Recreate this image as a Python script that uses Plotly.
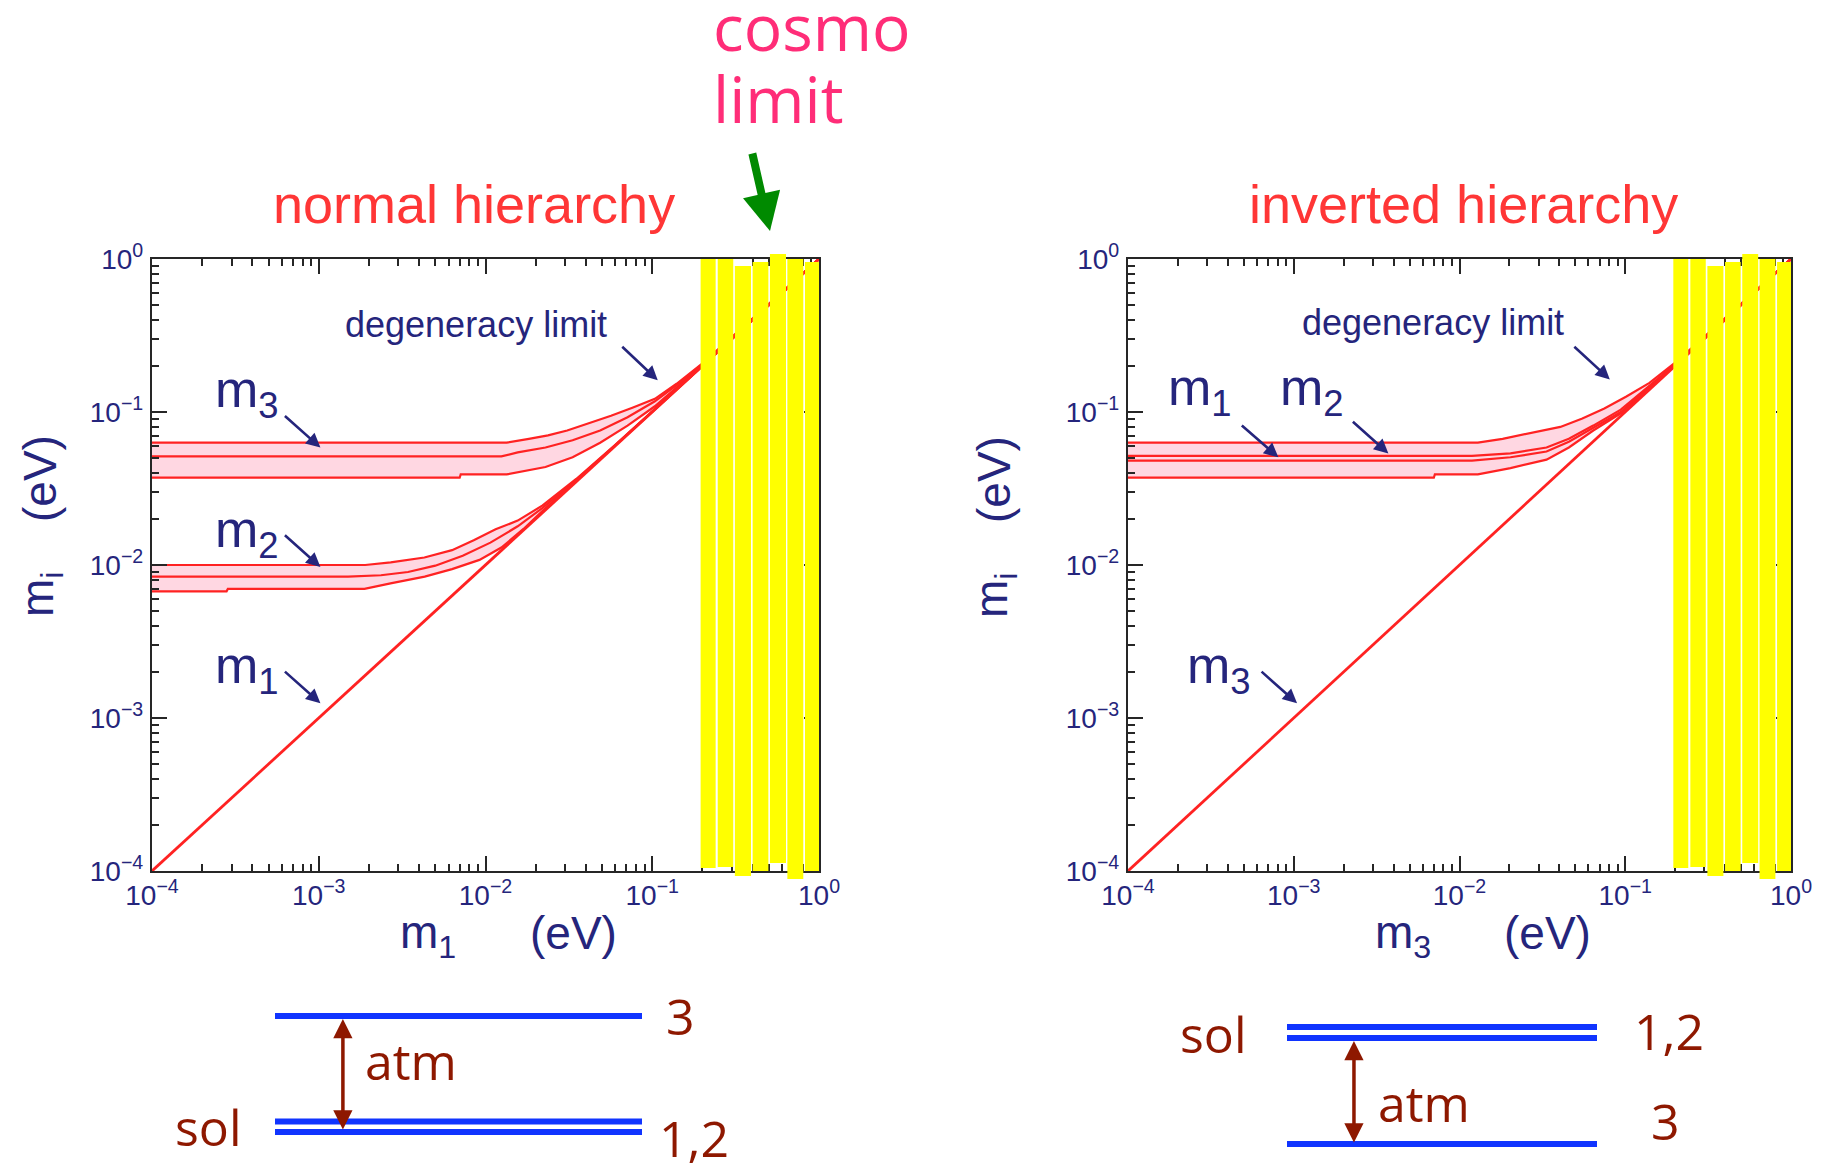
import math
import plotly.graph_objects as go

W, H = 1821, 1166

# ---------------- data (eV) ----------------
diag_x = [1e-4, 1.0]
diag_y = [1e-4, 1.0]

# normal hierarchy, m2 band (upper / central / lower edge) vs m1
nh_m2_top_x = [1e-4, 1.9e-3, 2.7e-3, 4.3e-3, 6.3e-3, 8.5e-3, 0.0115, 0.0156, 0.022, 0.035, 0.06, 0.1, 0.2, 1.0]
nh_m2_top_y = [0.0100, 0.0100, 0.0104, 0.0112, 0.0125, 0.0145, 0.0171, 0.0195, 0.0245, 0.0365, 0.0610, 0.1005, 0.2, 1.0]
nh_m2_mid_x = [1e-4, 1.5e-3, 2.36e-3, 3.43e-3, 5.0e-3, 7.3e-3, 0.0107, 0.0156, 0.022, 0.035, 0.06, 0.1, 0.2, 1.0]
nh_m2_mid_y = [0.0084, 0.0084, 0.00857, 0.0090, 0.0099, 0.0115, 0.0140, 0.0179, 0.0236, 0.0360, 0.0605, 0.1003, 0.2, 1.0]
nh_m2_bot_x = [1e-4, 2.8e-4, 2.85e-4, 1.88e-3, 2.74e-3, 4.32e-3, 6.3e-3, 9.2e-3, 0.01245, 0.0169, 0.022, 0.035, 0.06, 0.1, 0.2, 1.0]
nh_m2_bot_y = [0.00673, 0.00673, 0.00698, 0.00698, 0.00762, 0.0084, 0.0094, 0.0108, 0.0130, 0.0172, 0.0226, 0.0356, 0.0602, 0.1002, 0.2, 1.0]

# normal hierarchy, m3 band vs m1
nh_m3_top_x = [1e-4, 0.0134, 0.0182, 0.0237, 0.0309, 0.0419, 0.0566, 0.0767, 0.1037, 0.14, 0.2, 1.0]
nh_m3_top_y = [0.0630, 0.0630, 0.0668, 0.0704, 0.0757, 0.0845, 0.0944, 0.107, 0.122, 0.153, 0.208, 1.0]
nh_m3_mid_x = [1e-4, 0.01245, 0.0156, 0.0229, 0.0333, 0.0487, 0.0711, 0.1037, 0.14, 0.2, 1.0]
nh_m3_mid_y = [0.0513, 0.0513, 0.0544, 0.0586, 0.0654, 0.0757, 0.0923, 0.1175, 0.150, 0.206, 1.0]
nh_m3_bot_x = [1e-4, 7.0e-3, 7.1e-3, 0.0134, 0.0229, 0.0333, 0.0487, 0.0711, 0.1037, 0.14, 0.2, 1.0]
nh_m3_bot_y = [0.0372, 0.0372, 0.0391, 0.0391, 0.0437, 0.0506, 0.0630, 0.0815, 0.109, 0.145, 0.203, 1.0]

# inverted hierarchy, m1 / m2 bands vs m3 (four edges, top to bottom)
ih_l1_x = [1e-4, 0.0129, 0.0182, 0.0277, 0.0406, 0.0551, 0.0748, 0.1016, 0.14, 0.2, 1.0]
ih_l1_y = [0.0630, 0.0630, 0.0668, 0.0731, 0.0799, 0.0908, 0.1055, 0.1263, 0.155, 0.210, 1.0]
ih_l2_x = [1e-4, 0.0119, 0.0203, 0.0335, 0.0457, 0.0641, 0.094, 0.14, 0.2, 1.0]
ih_l2_y = [0.0517, 0.0517, 0.0536, 0.0586, 0.0668, 0.0815, 0.1037, 0.148, 0.205, 1.0]
ih_l3_x = [1e-4, 0.0119, 0.0203, 0.0335, 0.0457, 0.0641, 0.094, 0.14, 0.2, 1.0]
ih_l3_y = [0.0481, 0.0481, 0.0506, 0.0552, 0.0640, 0.0785, 0.1000, 0.146, 0.204, 1.0]
ih_l4_x = [1e-4, 0.0070, 0.0071, 0.0129, 0.0203, 0.0335, 0.0457, 0.0641, 0.094, 0.14, 0.2, 1.0]
ih_l4_y = [0.0372, 0.0372, 0.0391, 0.0391, 0.0430, 0.0488, 0.0586, 0.0757, 0.0978, 0.143, 0.202, 1.0]

# cosmological-limit highlight: edges of the yellow strips (eV)
cosmo_x0 = [0.195, 0.247, 0.313, 0.400, 0.508, 0.646, 0.824]
cosmo_x1 = [0.240, 0.306, 0.391, 0.497, 0.634, 0.805, 1.02]

# axis ticks
major_ticks = [1e-4, 1e-3, 1e-2, 1e-1, 1.0]
major_labels = ["10<sup>\u22124</sup>", "10<sup>\u22123</sup>", "10<sup>\u22122</sup>",
                "10<sup>\u22121</sup>", "10<sup>0</sup>"]
minor_ticks = [m * 10 ** e for e in range(-4, 0) for m in range(2, 10)]

# level-scheme diagrams (schematic units)
nh_levels = [0.0, 0.09, 1.0]
ih_levels = [0.0, 0.905, 1.0]

# ---------------- style ----------------
SANS = "Liberation Sans, Arial, sans-serif"
HUM = "Open Sans, Noto Sans, sans-serif"
NAVY = "#25257c"
RED = "#ff2222"
PINK = "#ffd7e2"
FRAME = "#262626"
YELLOW = "#ffff00"
BLUE = "#1034ff"
BROWN = "#8e1800"
TITLE_RED = "#ff3636"
COSMO_PINK = "#ff2d78"


def px(x):
    return x / W


def py(y):
    return 1 - y / H


# plot frames in pixels
L_X = (152, 819)
R_X = (1128, 1791)
P_Y = (259, 871)

fig = go.Figure()


def band(xs_top, ys_top, xs_bot, ys_bot, xa, ya):
    fig.add_trace(go.Scatter(
        x=list(xs_top) + list(reversed(xs_bot)),
        y=list(ys_top) + list(reversed(ys_bot)),
        fill="toself", fillcolor=PINK, mode="lines", line=dict(width=0),
        xaxis=xa, yaxis=ya, hoverinfo="skip"))


def line(xs, ys, xa, ya, w=2.2):
    fig.add_trace(go.Scatter(x=xs, y=ys, mode="lines", line=dict(color=RED, width=w),
                             xaxis=xa, yaxis=ya, hoverinfo="skip"))


# left panel
band(nh_m3_top_x, nh_m3_top_y, nh_m3_bot_x, nh_m3_bot_y, "x", "y")
band(nh_m2_top_x, nh_m2_top_y, nh_m2_bot_x, nh_m2_bot_y, "x", "y")
for xs, ys in [(nh_m3_top_x, nh_m3_top_y), (nh_m3_mid_x, nh_m3_mid_y), (nh_m3_bot_x, nh_m3_bot_y),
               (nh_m2_top_x, nh_m2_top_y), (nh_m2_mid_x, nh_m2_mid_y), (nh_m2_bot_x, nh_m2_bot_y)]:
    line(xs, ys, "x", "y")
line(diag_x, diag_y, "x", "y", 2.8)

# right panel
band(ih_l1_x, ih_l1_y, ih_l4_x, ih_l4_y, "x2", "y2")
for xs, ys in [(ih_l1_x, ih_l1_y), (ih_l2_x, ih_l2_y), (ih_l3_x, ih_l3_y), (ih_l4_x, ih_l4_y)]:
    line(xs, ys, "x2", "y2")
line(diag_x, diag_y, "x2", "y2", 2.8)

# level diagrams
for lv in nh_levels:
    fig.add_trace(go.Scatter(x=[0, 1], y=[lv, lv], mode="lines", line=dict(color=BLUE, width=6),
                             xaxis="x3", yaxis="y3", hoverinfo="skip"))
for lv in ih_levels:
    fig.add_trace(go.Scatter(x=[0, 1], y=[lv, lv], mode="lines", line=dict(color=BLUE, width=6),
                             xaxis="x4", yaxis="y4", hoverinfo="skip"))


def frame_axis(domain, anchor, standoff):
    return dict(type="log", range=[-4, 0], domain=domain, anchor=anchor, automargin=False,
                showline=True, linecolor=FRAME, linewidth=2.3, mirror="allticks",
                ticks="inside", ticklen=15, tickwidth=2, tickcolor=FRAME,
                tickmode="array", tickvals=major_ticks, ticktext=major_labels,
                tickfont=dict(family=SANS, size=28, color=NAVY), ticklabelstandoff=standoff,
                minor=dict(ticks="inside", ticklen=7, tickwidth=1.8, tickcolor=FRAME,
                           tickmode="array", tickvals=minor_ticks, showgrid=False),
                showgrid=False, zeroline=False, fixedrange=True)


def diag_axis(p0, p1, lo_pad, hi_pad, horizontal):
    # value 0 sits at pixel p0, value 1 at pixel p1
    unit = abs(p1 - p0)
    if horizontal:
        dom = [px(p0 - lo_pad * unit), px(p1 + hi_pad * unit)]
    else:
        dom = [py(p0 + lo_pad * unit), py(p1 - hi_pad * unit)]
    return dict(domain=dom, range=[-lo_pad, 1 + hi_pad], visible=False, fixedrange=True,
                automargin=False)


ydom = [py(P_Y[1]), py(P_Y[0])]
fig.update_layout(
    width=W, height=H, autosize=False,
    margin=dict(l=0, r=0, t=0, b=0, pad=0, autoexpand=False),
    paper_bgcolor="white", plot_bgcolor="white",
    showlegend=False,
    xaxis=frame_axis([px(L_X[0]), px(L_X[1])], "y", -2),
    yaxis=frame_axis(ydom, "x", 1),
    xaxis2=frame_axis([px(R_X[0]), px(R_X[1])], "y2", -2),
    yaxis2=frame_axis(ydom, "x2", 1),
    xaxis3=dict(anchor="y3", **diag_axis(275, 642, 0.4, 0.4, True)),
    yaxis3=dict(anchor="x3", **diag_axis(1132, 1016, 0.12, 0.25, False)),
    xaxis4=dict(anchor="y4", **diag_axis(1287, 1597, 0.4, 0.4, True)),
    yaxis4=dict(anchor="x4", **diag_axis(1144, 1027, 0.12, 0.25, False)),
)

# yellow cosmological-limit strips (pixel jitter of their ends is purely cosmetic)
top_jit = [0, 0, 7, 3, -5, 0, 3]
bot_jit = [-3, -4, 5, 0, -8, 8, 0]
shapes = []
for xref in ["x", "x2"]:
    for i in range(len(cosmo_x0)):
        shapes.append(dict(type="rect", xref=xref, yref="paper",
                           x0=cosmo_x0[i], x1=cosmo_x1[i],
                           y0=py(P_Y[1] + bot_jit[i]), y1=py(P_Y[0] + top_jit[i]),
                           fillcolor=YELLOW, line=dict(width=0), layer="above"))
fig.update_layout(shapes=shapes)

ann = []


def text(x, y, s, size, color, family=SANS, xref="paper", yref="paper", xanchor="center",
         yanchor="middle", angle=0):
    ann.append(dict(x=x, y=y, xref=xref, yref=yref, text=s, showarrow=False,
                    font=dict(family=family, size=size, color=color),
                    xanchor=xanchor, yanchor=yanchor, textangle=angle))


def arrow(x, y, ax, ay, xref, yref, color=NAVY, width=2.6, size=1.1):
    ann.append(dict(x=x, y=y, xref=xref, yref=yref, ax=ax, ay=ay, text="",
                    showarrow=True, arrowhead=2, arrowsize=size, arrowwidth=width,
                    arrowcolor=color))


# titles
text(px(474), py(204), "normal hierarchy", 54, TITLE_RED)
text(px(1463), py(204), "inverted hierarchy", 54, TITLE_RED)

# cosmo limit label + arrow
text(px(711), py(26), "cosmo", 64, COSMO_PINK, family=HUM, xanchor="left")
text(px(711), py(99), "limit", 64, COSMO_PINK, family=HUM, xanchor="left")
ann.append(dict(x=px(770), y=py(231), xref="paper", yref="paper", ax=-18, ay=-79, text="",
                showarrow=True, arrowhead=2, arrowsize=0.95, arrowwidth=8, arrowcolor="#008a00"))

# axis titles
text(px(428), py(935), "m<sub>1</sub>", 46, NAVY)
text(px(573), py(933), "(eV)", 46, NAVY)
text(px(1403), py(935), "m<sub>3</sub>", 46, NAVY)
text(px(1547), py(933), "(eV)", 46, NAVY)
for xc in (40, 994):
    text(px(xc), py(595), "m<sub>i</sub>", 46, NAVY, angle=-90)
    text(px(xc), py(479), "(eV)", 46, NAVY, angle=-90)

# in-panel labels (positions in log10 data units)
text(-2.057, -0.425, "degeneracy limit", 36, NAVY, xref="x", yref="y")
arrow(-0.967, -0.793, -37, -35, "x", "y")
for lab, ly, tipy in [("m<sub>3</sub>", -0.875, -1.2325), ("m<sub>2</sub>", -1.79, -2.013),
                      ("m<sub>1</sub>", -2.68, -2.904)]:
    text(-3.43, ly, lab, 52, NAVY, xref="x", yref="y")
    arrow(-2.99, tipy, -37, -33, "x", "y")

text(-2.16, -0.412, "degeneracy limit", 36, NAVY, xref="x2", yref="y2")
arrow(-1.093, -0.787, -37, -34, "x2", "y2")
text(-3.566, -0.864, "m<sub>1</sub>", 52, NAVY, xref="x2", yref="y2")
arrow(-3.093, -1.296, -38, -33, "x2", "y2")
text(-2.89, -0.864, "m<sub>2</sub>", 52, NAVY, xref="x2", yref="y2")
arrow(-2.429, -1.271, -37, -33, "x2", "y2")
text(-3.451, -2.678, "m<sub>3</sub>", 52, NAVY, xref="x2", yref="y2")
arrow(-2.98, -2.904, -37, -33, "x2", "y2")

# level diagram labels
text(1.06, nh_levels[2], "3", 50, BROWN, family=HUM, xref="x3", yref="y3", xanchor="left")
text(1.04, -0.05, "1,2", 50, BROWN, family=HUM, xref="x3", yref="y3", xanchor="left")
text(-0.084, 0.04, "sol", 50, BROWN, family=HUM, xref="x3", yref="y3", xanchor="right")
text(0.24, 0.615, "atm", 50, BROWN, family=HUM, xref="x3", yref="y3", xanchor="left")
ann.append(dict(x=0.185, y=nh_levels[2], ax=0.185, ay=nh_levels[0], xref="x3", yref="y3",
                axref="x3", ayref="y3", text="", showarrow=True, arrowside="end+start",
                arrowhead=2, startarrowhead=2, arrowsize=1.1, startarrowsize=1.1,
                arrowwidth=3.5, arrowcolor=BROWN, standoff=3, startstandoff=1))

text(1.113, 0.966, "1,2", 50, BROWN, family=HUM, xref="x4", yref="y4", xanchor="left")
text(1.168, 0.197, "3", 50, BROWN, family=HUM, xref="x4", yref="y4", xanchor="left")
text(-0.123, 0.94, "sol", 50, BROWN, family=HUM, xref="x4", yref="y4", xanchor="right")
text(0.287, 0.354, "atm", 50, BROWN, family=HUM, xref="x4", yref="y4", xanchor="left")
ann.append(dict(x=0.216, y=ih_levels[1], ax=0.216, ay=ih_levels[0], xref="x4", yref="y4",
                axref="x4", ayref="y4", text="", showarrow=True, arrowside="end+start",
                arrowhead=2, startarrowhead=2, arrowsize=1.1, startarrowsize=1.1,
                arrowwidth=3.5, arrowcolor=BROWN, standoff=3, startstandoff=0))

fig.update_layout(annotations=ann)
fig.write_html("out.html")
